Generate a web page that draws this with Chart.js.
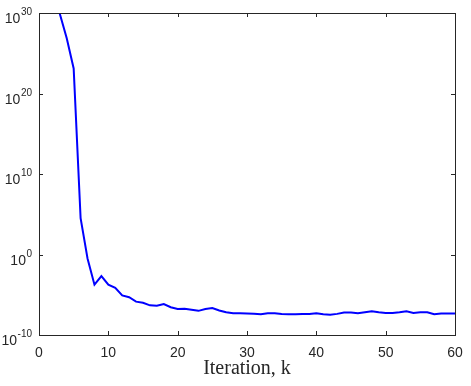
<!DOCTYPE html>
<html>
<head>
<meta charset="utf-8">
<script src="https://cdn.jsdelivr.net/npm/chart.js@4.4.1/dist/chart.umd.min.js"></script>
<style>
  html, body { margin: 0; padding: 0; background: #fff; }
  #wrap { width: 471px; height: 386px; }
</style>
</head>
<body>
<div id="wrap"><canvas id="resChart" width="471" height="386"></canvas></div>
<script>
// Iterasi k dan nilai residu (skala log)
var iterations = [3, 4, 5, 6, 7, 8, 9, 10, 11, 12, 13, 14, 15, 16, 17, 18, 19, 20,
    21, 22, 23, 24, 25, 26, 27, 28, 29, 30, 31, 32, 33, 34, 35, 36, 37, 38, 39, 40,
    41, 42, 43, 44, 45, 46, 47, 48, 49, 50, 51, 52, 53, 54, 55, 56, 57, 58, 59, 60];
var residual = [7.9e29, 7.2e26, 1.3e23, 3.2e4, 3.2e-1, 1.8e-4, 2.1e-3, 1.8e-4, 7.1e-5, 8.3e-6,
    5.0e-6, 1.4e-6, 1.0e-6, 4.8e-7, 4.2e-7, 7.1e-7, 2.8e-7, 1.7e-7, 1.8e-7, 1.4e-7,
    1.0e-7, 1.7e-7, 2.2e-7, 1.1e-7, 6.8e-8, 5.0e-8, 5.0e-8, 4.7e-8, 4.4e-8, 3.8e-8,
    5.0e-8, 5.0e-8, 4.0e-8, 3.8e-8, 3.8e-8, 4.2e-8, 4.2e-8, 5.1e-8, 3.8e-8, 3.2e-8,
    4.2e-8, 6.2e-8, 6.2e-8, 5.1e-8, 6.8e-8, 9.1e-8, 6.8e-8, 5.6e-8, 5.6e-8, 6.8e-8,
    9.1e-8, 5.6e-8, 6.8e-8, 6.8e-8, 3.8e-8, 4.7e-8, 4.7e-8, 4.7e-8];

// Label sumbu
var xTicks = [0, 10, 20, 30, 40, 50, 60];
var yTicks = [1e-10, 1e0, 1e10, 1e20, 1e30];
var xTitle = 'Iteration, k';

var axisColor = '#262626';

// Plugin untuk kotak sumbu, tick ke dalam, dan label 10^n
var matlabAxes = {
    id: 'matlabAxes',
    afterDraw: function(chart) {
        var ctx = chart.ctx;
        var a = chart.chartArea;
        var xs = chart.scales.x;
        var ys = chart.scales.y;
        ctx.save();
        ctx.strokeStyle = axisColor;
        ctx.lineWidth = 1;
        ctx.beginPath();
        xTicks.forEach(function(v) {
            var px = Math.round(xs.getPixelForValue(v)) + 0.5;
            ctx.moveTo(px, a.bottom); ctx.lineTo(px, a.bottom - 4);
            ctx.moveTo(px, a.top); ctx.lineTo(px, a.top + 4);
        });
        yTicks.forEach(function(v) {
            var py = Math.round(ys.getPixelForValue(v)) + 0.5;
            ctx.moveTo(a.left, py); ctx.lineTo(a.left + 4, py);
            ctx.moveTo(a.right, py); ctx.lineTo(a.right - 4, py);
        });
        ctx.stroke();
        ctx.strokeRect(Math.round(a.left) + 0.5, Math.round(a.top) + 0.5,
            Math.round(a.right - a.left), Math.round(a.bottom - a.top));

        // label sumbu y: 10 dengan pangkat
        ctx.fillStyle = axisColor;
        ctx.textBaseline = 'alphabetic';
        yTicks.forEach(function(v) {
            var py = ys.getPixelForValue(v);
            var exp = String(Math.round(Math.log10(v)));
            ctx.font = '10px "Liberation Sans", Arial, sans-serif';
            ctx.textAlign = 'right';
            var right = a.left - 7;
            ctx.fillText(exp, right, py + 2);
            var w = ctx.measureText(exp).width;
            ctx.font = '14px "Liberation Sans", Arial, sans-serif';
            ctx.fillText('10', right - w - 0.5, py + 10);
        });
        ctx.restore();
    }
};

var chart = new Chart(document.getElementById('resChart').getContext('2d'), {
    type: 'line',
    data: {
        datasets: [{
            data: iterations.map(function(k, i) {
                return { x: k, y: residual[i] };
            }),
            borderColor: '#0000ff',
            borderWidth: 2,
            pointRadius: 0,
            tension: 0,
            fill: false
        }]
    },
    options: {
        responsive: false,
        animation: false,
        layout: { padding: { left: 0, right: 16, top: 13, bottom: 0 } },
        scales: {
            x: {
                type: 'linear',
                min: 0,
                max: 60,
                grid: { display: false },
                border: { display: false },
                afterBuildTicks: function(scale) {
                    scale.ticks = xTicks.map(function(v) { return { value: v }; });
                },
                afterFit: function(scale) { scale.height = 51; },
                ticks: {
                    padding: 2,
                    color: axisColor,
                    font: { family: '"Liberation Sans", Arial, sans-serif', size: 14 }
                },
                title: {
                    display: true,
                    text: xTitle,
                    color: axisColor,
                    padding: { top: 0, bottom: 5 },
                    font: { family: '"Liberation Serif", "Times New Roman", serif', size: 20 }
                }
            },
            y: {
                type: 'logarithmic',
                min: 1e-10,
                max: 1e30,
                grid: { display: false },
                border: { display: false },
                afterBuildTicks: function(scale) {
                    scale.ticks = yTicks.map(function(v) { return { value: v }; });
                },
                afterFit: function(scale) { scale.width = 39; },
                ticks: { display: false }
            }
        },
        plugins: {
            legend: { display: false },
            tooltip: { enabled: false }
        }
    },
    plugins: [matlabAxes]
});
</script>
</body>
</html>
